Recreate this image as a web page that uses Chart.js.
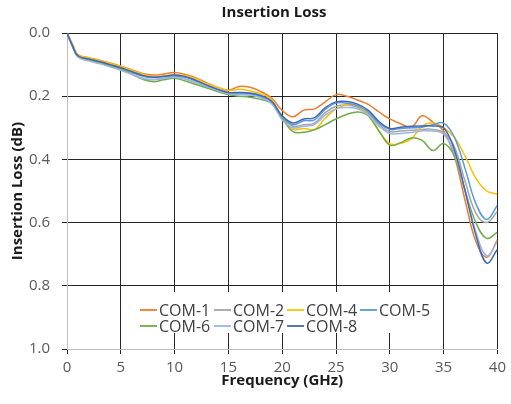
<!DOCTYPE html>
<html>
<head>
<meta charset="utf-8">
<title>Insertion Loss</title>
<script src="https://cdn.jsdelivr.net/npm/chart.js"></script>
<style>
  html, body { margin: 0; padding: 0; background: #fff; }
  #wrap { width: 511px; height: 404px; }
</style>
</head>
<body>
<div id="wrap"><canvas id="chart" width="511" height="404"></canvas></div>
<script>
// --- data ---
const freqs = [0, 0.5, 1, 2, 3, 4, 5, 6, 7, 8, 9, 10, 11, 12, 13, 14, 15, 16, 17, 18, 19, 20,
    21, 22, 23, 24, 25, 26, 27, 28, 29, 30, 31, 32, 33, 34, 35, 36, 37, 38, 39, 40];

const com1 = [0, 0.035, 0.068, 0.078, 0.086, 0.095, 0.105, 0.116, 0.128, 0.133, 0.13, 0.125, 0.131, 0.142, 0.158, 0.172, 0.181, 0.169, 0.172, 0.185, 0.205,
    0.245, 0.265, 0.244, 0.24, 0.218, 0.195, 0.2, 0.212, 0.226, 0.25, 0.272, 0.287, 0.298, 0.262, 0.282, 0.31, 0.39, 0.53, 0.66, 0.71, 0.655];
const com2 = [0, 0.04, 0.074, 0.086, 0.095, 0.105, 0.116, 0.13, 0.143, 0.148, 0.143, 0.14, 0.146, 0.157, 0.17, 0.182, 0.192, 0.193, 0.195, 0.202, 0.218,
    0.27, 0.295, 0.29, 0.285, 0.252, 0.232, 0.228, 0.235, 0.255, 0.29, 0.312, 0.31, 0.308, 0.305, 0.305, 0.315, 0.36, 0.47, 0.57, 0.6, 0.565];
const com4 = [0, 0.035, 0.068, 0.078, 0.087, 0.096, 0.106, 0.118, 0.13, 0.138, 0.136, 0.132, 0.135, 0.145, 0.16, 0.172, 0.182, 0.178, 0.183, 0.192, 0.21,
    0.268, 0.305, 0.302, 0.305, 0.27, 0.24, 0.228, 0.23, 0.262, 0.31, 0.35, 0.35, 0.335, 0.295, 0.285, 0.3, 0.33, 0.39, 0.46, 0.5, 0.51];
const com5 = [0, 0.04, 0.072, 0.083, 0.092, 0.101, 0.112, 0.124, 0.136, 0.141, 0.138, 0.136, 0.14, 0.152, 0.167, 0.18, 0.19, 0.19, 0.192, 0.2, 0.216,
    0.265, 0.29, 0.278, 0.275, 0.242, 0.222, 0.222, 0.23, 0.25, 0.285, 0.305, 0.302, 0.3, 0.298, 0.29, 0.285, 0.33, 0.43, 0.54, 0.59, 0.545];
const com6 = [0, 0.04, 0.072, 0.085, 0.094, 0.103, 0.114, 0.13, 0.146, 0.154, 0.148, 0.143, 0.152, 0.163, 0.174, 0.185, 0.195, 0.2, 0.203, 0.21, 0.222,
    0.27, 0.312, 0.314, 0.306, 0.29, 0.272, 0.258, 0.25, 0.262, 0.31, 0.355, 0.347, 0.332, 0.34, 0.372, 0.35, 0.39, 0.5, 0.6, 0.65, 0.63];
const com7 = [0, 0.042, 0.076, 0.088, 0.097, 0.107, 0.118, 0.131, 0.143, 0.147, 0.143, 0.14, 0.146, 0.157, 0.17, 0.182, 0.192, 0.195, 0.197, 0.205, 0.222,
    0.275, 0.3, 0.295, 0.29, 0.26, 0.24, 0.236, 0.24, 0.26, 0.295, 0.318, 0.318, 0.315, 0.31, 0.31, 0.32, 0.38, 0.5, 0.63, 0.705, 0.66];
const com8 = [0, 0.04, 0.072, 0.082, 0.09, 0.1, 0.11, 0.122, 0.134, 0.14, 0.137, 0.133, 0.138, 0.15, 0.165, 0.178, 0.188, 0.188, 0.19, 0.198, 0.215,
    0.262, 0.285, 0.272, 0.268, 0.236, 0.218, 0.217, 0.225, 0.245, 0.28, 0.302, 0.298, 0.295, 0.294, 0.294, 0.3, 0.37, 0.5, 0.64, 0.728, 0.685];

const seriesNames = ["COM-1", "COM-2", "COM-4", "COM-5", "COM-6", "COM-7", "COM-8"];
const seriesValues = [com1, com2, com4, com5, com6, com7, com8];
const seriesColors = ["#ED7D31", "#A5A5A5", "#FFC000", "#5B9BD5", "#70AD47", "#9DB5E3", "#4169B8"];

const xTicks = [0, 5, 10, 15, 20, 25, 30, 35, 40];
const yTicks = [0, 0.2, 0.4, 0.6, 0.8, 1.0];

const FONT = "Open Sans";

// title drawn over the plot centre like the original
const titlePlugin = {
    id: "chartTitle",
    afterDraw(chart) {
        const ctx = chart.ctx;
        ctx.save();
        ctx.font = "bold 15px '" + FONT + "'";
        ctx.fillStyle = "#1a1a1a";
        ctx.textAlign = "center";
        ctx.textBaseline = "middle";
        ctx.fillText("Insertion Loss", 274, 13);
        ctx.restore();
    }
};

// legend box sitting inside the plot, two rows
const legendPlugin = {
    id: "innerLegend",
    afterDraw(chart) {
        const ctx = chart.ctx;
        const cols = [140, 214, 287, 360];
        const rows = [310, 326];
        ctx.save();
        ctx.fillStyle = "#fff";
        ctx.fillRect(128, 292, 310, 41);
        ctx.font = "16px '" + FONT + "'";
        ctx.textBaseline = "middle";
        ctx.textAlign = "left";
        chart.data.datasets.forEach((ds, i) => {
            const x = cols[i % 4];
            const y = rows[Math.floor(i / 4)];
            ctx.strokeStyle = ds.borderColor;
            ctx.lineWidth = 1.8;
            ctx.beginPath();
            ctx.moveTo(x, y);
            ctx.lineTo(x + 17, y);
            ctx.stroke();
            ctx.fillStyle = "#404040";
            ctx.fillText(ds.label, x + 19, y + 1);
        });
        ctx.restore();
    }
};

const datasets = seriesNames.map((name, i) => ({
    label: name,
    data: freqs.map((f, j) => ({ x: f, y: seriesValues[i][j] })),
    borderColor: seriesColors[i],
    backgroundColor: seriesColors[i],
    borderWidth: 1.5,
    pointRadius: 0,
    tension: 0.4,
    fill: false,
    order: seriesNames.length - i
}));

const gridColor = "#262626";

new Chart(document.getElementById("chart"), {
    type: "line",
    data: { datasets: datasets },
    options: {
        responsive: false,
        animation: false,
        events: [],
        layout: { padding: { left: 0, right: 10, top: 33, bottom: 8 } },
        plugins: {
            legend: { display: false },
            tooltip: { enabled: false },
            title: { display: false }
        },
        scales: {
            x: {
                type: "linear",
                min: 0,
                max: 40,
                afterBuildTicks: s => { s.ticks = xTicks.map(v => ({ value: v })); },
                afterFit: s => { s.height = 47; },
                ticks: {
                    color: "#595959",
                    font: { family: FONT, size: 15 },
                    padding: 5,
                    maxRotation: 0
                },
                grid: { color: gridColor, lineWidth: 1, tickLength: 5 },
                border: { color: "#BFBFBF", width: 1 },
                title: {
                    display: true,
                    text: "Frequency (GHz)",
                    color: "#1a1a1a",
                    font: { family: FONT, size: 15, weight: "bold" },
                    padding: { top: 2, bottom: 6 }
                }
            },
            y: {
                reverse: true,
                min: 0,
                max: 1,
                afterBuildTicks: s => { s.ticks = yTicks.map(v => ({ value: v })); },
                afterFit: s => { s.width = 67; },
                ticks: {
                    color: "#595959",
                    font: { family: FONT, size: 15 },
                    padding: 12,
                    callback: v => v.toFixed(1)
                },
                grid: { color: gridColor, lineWidth: 1, tickLength: 5 },
                border: { color: "#BFBFBF", width: 1 },
                title: {
                    display: true,
                    text: "Insertion Loss (dB)",
                    color: "#1a1a1a",
                    font: { family: FONT, size: 15, weight: "bold" },
                    padding: { top: 9, bottom: 2 }
                }
            }
        }
    },
    plugins: [titlePlugin, legendPlugin]
});
</script>
</body>
</html>
